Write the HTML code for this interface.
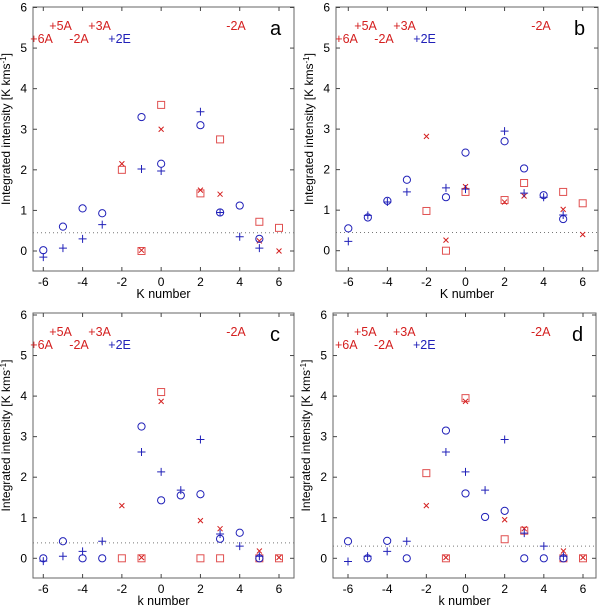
<!DOCTYPE html>
<html><head><meta charset="utf-8"><style>
body{margin:0;background:#fff}
svg{display:block;font-family:"Liberation Sans",sans-serif}
</style></head><body>
<svg id="chart" width="600" height="606" xmlns="http://www.w3.org/2000/svg"></svg>
<script>
const kValues=[-6,-5,-4,-3,-2,-1,0,1,2,3,4,5,6];
const xTicks=[-6,-4,-2,0,2,4,6];
const yTicks=[0,1,2,3,4,5,6];
// null = no point
const aCircle=[0.02,0.6,1.05,0.93,null,3.3,2.15,null,3.1,0.95,1.12,0.3,null];
const aPlus=[-0.15,0.07,0.3,0.65,null,2.02,1.97,null,3.43,0.95,0.35,0.07,null];
const aCross=[null,null,null,null,2.15,0.02,3.0,null,1.5,1.4,null,0.25,0];
const aSquare=[null,null,null,null,2.0,0,3.6,null,1.42,2.75,null,0.72,0.57];
const bCircle=[0.55,0.82,1.23,1.75,null,1.32,2.42,null,2.7,2.03,1.37,0.78,null];
const bPlus=[0.23,0.87,1.2,1.45,null,1.55,1.52,null,2.95,1.42,1.32,0.88,null];
const bCross=[null,null,null,null,2.82,0.26,1.58,null,1.2,1.35,null,1.02,0.4];
const bSquare=[null,null,null,null,0.98,0,1.45,null,1.25,1.67,null,1.45,1.17];
const cCircle=[0,0.42,0,0,null,3.25,1.43,1.55,1.58,0.48,0.63,0,null];
const cPlus=[-0.07,0.05,0.17,0.42,null,2.62,2.13,1.68,2.93,0.6,0.3,0.05,null];
const cCross=[null,null,null,null,1.3,0.02,3.87,null,0.93,0.73,null,0.18,0.02];
const cSquare=[null,null,null,null,0,0,4.1,null,0,0,null,0,0];
const dCircle=[0.42,0,0.43,0,null,3.15,1.6,1.02,1.17,0,0,0,null];
const dPlus=[-0.08,0.05,0.17,0.42,null,2.62,2.13,1.68,2.93,0.62,0.3,0.05,null];
const dCross=[null,null,null,null,1.3,0.02,3.87,null,0.95,0.73,null,0.18,0.02];
const dSquare=[null,null,null,null,2.1,0,3.95,null,0.47,0.68,null,0,0];
const noiseLevels=[0.45,0.45,0.38,0.3];
const panelLetters=['a','b','c','d'];
const xTitles=['K number','K number','k number','k number'];

const NS='http://www.w3.org/2000/svg';
const svg=document.getElementById('chart');
function mk(tag,attrs,parent){const e=document.createElementNS(NS,tag);for(const k in attrs)e.setAttribute(k,attrs[k]);(parent||svg).appendChild(e);return e;}

const panels=[
 {L:33,R:294,T:7,B:271,x0:43.3,x6:279,y0:251,y6:7.5,c:aCircle,p:aPlus,x:aCross,s:aSquare},
 {L:336,R:598,T:7,B:271,x0:348.3,x6:582.7,y0:250.7,y6:7.5,c:bCircle,p:bPlus,x:bCross,s:bSquare},
 {L:33,R:294,T:313,B:578,x0:43.3,x6:279,y0:558.3,y6:315,c:cCircle,p:cPlus,x:cCross,s:cSquare},
 {L:333,R:596,T:313,B:578,x0:348,x6:583,y0:558.3,y6:315,c:dCircle,p:dPlus,x:dCross,s:dSquare}
];
const RED='#d42020',BLUE='#2020b8',SQ='#e05050';

panels.forEach((P,i)=>{
 const g=mk('g',{});
 
 
 const X=v=>P.x0+(v+6)*(P.x6-P.x0)/12;
 const Y=v=>P.y0-v*(P.y0-P.y6)/6;
 const frame=mk('rect',{x:P.L,y:P.T,width:P.R-P.L,height:P.B-P.T,fill:'none',stroke:'#666','stroke-width':1},g);
 
 
 xTicks.forEach(t=>{
  const x=X(t);
  mk('line',{x1:x,x2:x,y1:P.B,y2:P.B-4,stroke:'#444'},g);
  mk('line',{x1:x,x2:x,y1:P.T,y2:P.T+4,stroke:'#444'},g);
  const tl=mk('text',{x:x,y:P.B+15,'font-size':12,'text-anchor':'middle',fill:'#000'},g);
  tl.textContent=String(t);
  
  
 });
 yTicks.forEach(t=>{
  const y=Y(t);
  mk('line',{x1:P.L,x2:P.L+4,y1:y,y2:y,stroke:'#444'},g);
  mk('line',{x1:P.R,x2:P.R-4,y1:y,y2:y,stroke:'#444'},g);
  const tl=mk('text',{x:P.L-6,y:y+4,'font-size':12,'text-anchor':'end',fill:'#000'},g);
  tl.textContent=String(t);
  
  
 });
 const xt=mk('text',{x:(P.L+P.R)/2,y:P.B+27,'font-size':12.5,'text-anchor':'middle'},g);
 xt.textContent=xTitles[i];
 
 
 const yc=(P.T+P.B)/2-10;
 const yt=mk('text',{x:P.L-23,y:yc,'font-size':12,'text-anchor':'middle',transform:`rotate(-90 ${P.L-23} ${yc})`},g);
 yt.innerHTML='Integrated intensity [K kms<tspan dy="-4" font-size="8">-1</tspan><tspan dy="4">]</tspan>';
 
 
 const ny=Y(noiseLevels[i]);
 const nl=mk('line',{x1:P.L,x2:P.R,y1:ny,y2:ny,stroke:'#777','stroke-dasharray':'1,3'},g);
 
 
 const ann=[['+6A',-13,36,RED],['+5A',6,23,RED],['-2A',26,36,RED],['+3A',45,23,RED],['+2E',65,36,BLUE],['-2A',183,23,RED]];
 ann.forEach(a=>{
  const t=mk('text',{x:P.x0+a[1],y:P.T+a[2],'font-size':12.5,fill:a[3]},g);
  t.textContent=a[0];
  
  
 });
 const pl=mk('text',{x:P.R-24,y:P.T+28,'font-size':20,fill:'#000'},g);
 pl.textContent=panelLetters[i];
 
 
 kValues.forEach((k,j)=>{
  const x=X(k);
  if(P.s[j]!=null){const y=Y(P.s[j]);const m=mk('rect',{x:x-3.5,y:y-3.5,width:7,height:7,fill:'none',stroke:SQ},g);
   }
  if(P.x[j]!=null){const y=Y(P.x[j]);const m=mk('path',{d:`M${x-2.5},${y-2.5}L${x+2.5},${y+2.5}M${x-2.5},${y+2.5}L${x+2.5},${y-2.5}`,stroke:RED,fill:'none'},g);
   }
  if(P.c[j]!=null){const y=Y(P.c[j]);const m=mk('circle',{cx:x,cy:y,r:3.6,fill:'none',stroke:BLUE},g);
   }
  if(P.p[j]!=null){const y=Y(P.p[j]);const m=mk('path',{d:`M${x-4},${y}L${x+4},${y}M${x},${y-4}L${x},${y+4}`,stroke:BLUE,fill:'none'},g);
   }
 });
});
</script>
</body></html>
